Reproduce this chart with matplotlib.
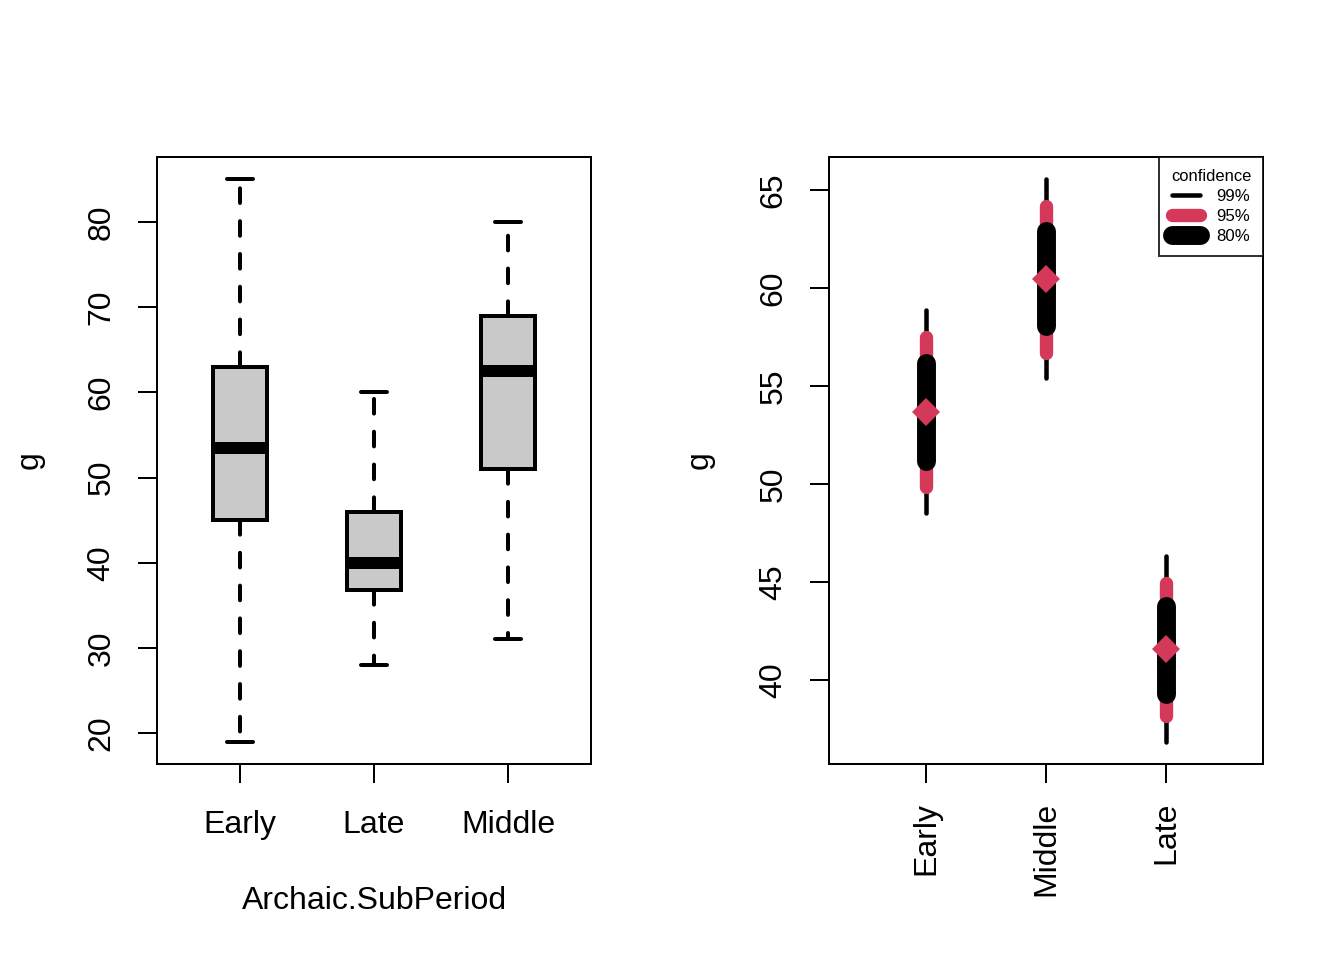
import matplotlib
matplotlib.use("Agg")
import matplotlib.pyplot as plt
from matplotlib.lines import Line2D

plt.rcParams['font.family'] = ['Liberation Sans', 'DejaVu Sans']
plt.rcParams['lines.scale_dashes'] = False

# ---- data: left panel (boxplot) ----
box_groups = ["Early", "Late", "Middle"]
box_whislo = [19, 28, 31]
box_q1 = [45, 36.75, 51]
box_med = [53.5, 40, 62.5]
box_q3 = [63, 46, 69]
box_whishi = [85, 60, 80]

# ---- data: right panel (confidence intervals) ----
ci_groups = ["Early", "Middle", "Late"]
ci_center = [53.7, 60.45, 41.55]
ci99_lo = [48.5, 55.4, 36.85]
ci99_hi = [58.9, 65.55, 46.3]
ci95_lo = [49.85, 56.7, 38.15]
ci95_hi = [57.5, 64.2, 44.95]
ci80_lo = [51.15, 58.05, 39.3]
ci80_hi = [56.2, 62.9, 43.75]

left_yticks = [20, 30, 40, 50, 60, 70, 80]
right_yticks = [40, 45, 50, 55, 60, 65]

RED = "#D5395A"
GRAY = "#C9C9C9"

fig = plt.figure(figsize=(7, 5), dpi=192)
W, H = 1344, 960
ax1 = fig.add_axes([157 / W, 1 - 764 / H, 434 / W, 607 / H])
ax2 = fig.add_axes([829 / W, 1 - 764 / H, 434 / W, 607 / H])

# ---- left boxplot ----
stats = []
for i, g in enumerate(box_groups):
    stats.append(dict(label=g, whislo=box_whislo[i], q1=box_q1[i], med=box_med[i],
                      q3=box_q3[i], whishi=box_whishi[i], fliers=[]))
pos = list(range(1, len(box_groups) + 1))
ax1.bxp(stats, positions=pos, widths=0.4, patch_artist=True, showfliers=False,
        capwidths=0.2,
        boxprops=dict(facecolor=GRAY, edgecolor="black", linewidth=1.5),
        medianprops=dict(color="black", linewidth=4.5, solid_capstyle="butt"),
        whiskerprops=dict(color="black", linewidth=1.5, linestyle=(0, (5.5, 6.8)),
                          dash_capstyle="round"),
        capprops=dict(color="black", linewidth=1.5, solid_capstyle="round"))
ax1.set_xlim(0.38, 3.62)
lo, hi = min(box_whislo), max(box_whishi)
r = hi - lo
ax1.set_ylim(lo - 0.04 * r, hi + 0.04 * r)
ax1.set_yticks(left_yticks)
ax1.set_xticks(pos)
ax1.set_xticklabels(box_groups)
ax1.tick_params(axis="x", length=7.1, width=0.75, pad=10, labelsize=12)
ax1.tick_params(axis="y", length=7.1, width=0.75, pad=8, labelsize=12, labelrotation=90)
for t in ax1.get_yticklabels():
    t.set_va("center")
for s in ax1.spines.values():
    s.set_linewidth(0.75)

# ---- right CI plot ----
x = list(range(1, len(ci_groups) + 1))
ax2.vlines(x, ci99_lo, ci99_hi, colors="black", linewidth=1.7, capstyle="round", zorder=2)
ax2.vlines(x, ci95_lo, ci95_hi, colors=RED, linewidth=5.0, capstyle="round", zorder=3)
ax2.vlines(x, ci80_lo, ci80_hi, colors="black", linewidth=7.1, capstyle="round", zorder=4)
ax2.plot(x, ci_center, linestyle="none", marker="D", markersize=7.4, color=RED,
         markeredgewidth=0, zorder=5)
ax2.set_xlim(0.19, 3.81)
lo, hi = min(ci99_lo), max(ci99_hi)
r = hi - lo
ax2.set_ylim(lo - 0.04 * r, hi + 0.04 * r)
ax2.set_yticks(right_yticks)
ax2.set_xticks(x)
ax2.set_xticklabels(ci_groups)
ax2.tick_params(axis="x", length=7.1, width=0.75, pad=7, labelsize=12, labelrotation=90)
ax2.tick_params(axis="y", length=7.1, width=0.75, pad=8, labelsize=12, labelrotation=90)
for t in ax2.get_yticklabels():
    t.set_va("center")
for s in ax2.spines.values():
    s.set_linewidth(0.75)

handles = [Line2D([], [], color="black", linewidth=1.7, solid_capstyle="round"),
           Line2D([], [], color=RED, linewidth=5.0, solid_capstyle="round"),
           Line2D([], [], color="black", linewidth=7.1, solid_capstyle="round")]
leg = ax2.legend(handles, ["99%", "95%", "80%"], title="confidence", loc="upper right",
                 bbox_to_anchor=(1, 1), borderaxespad=0, fancybox=False, frameon=True,
                 edgecolor="black", fontsize=6.3, title_fontsize=6.2, handlelength=1.65,
                 handletextpad=1.0, labelspacing=0.3, borderpad=0.7)
leg.get_frame().set_linewidth(0.75)

# axis titles
fig.text(30 / W, 1 - 460 / H, "g", rotation=90, ha="center", va="center", fontsize=12)
fig.text(700 / W, 1 - 460 / H, "g", rotation=90, ha="center", va="center", fontsize=12)
fig.text(374 / W, 1 - 901 / H, "Archaic.SubPeriod", ha="center", va="center", fontsize=12)

fig.savefig("out.png", dpi=192)
